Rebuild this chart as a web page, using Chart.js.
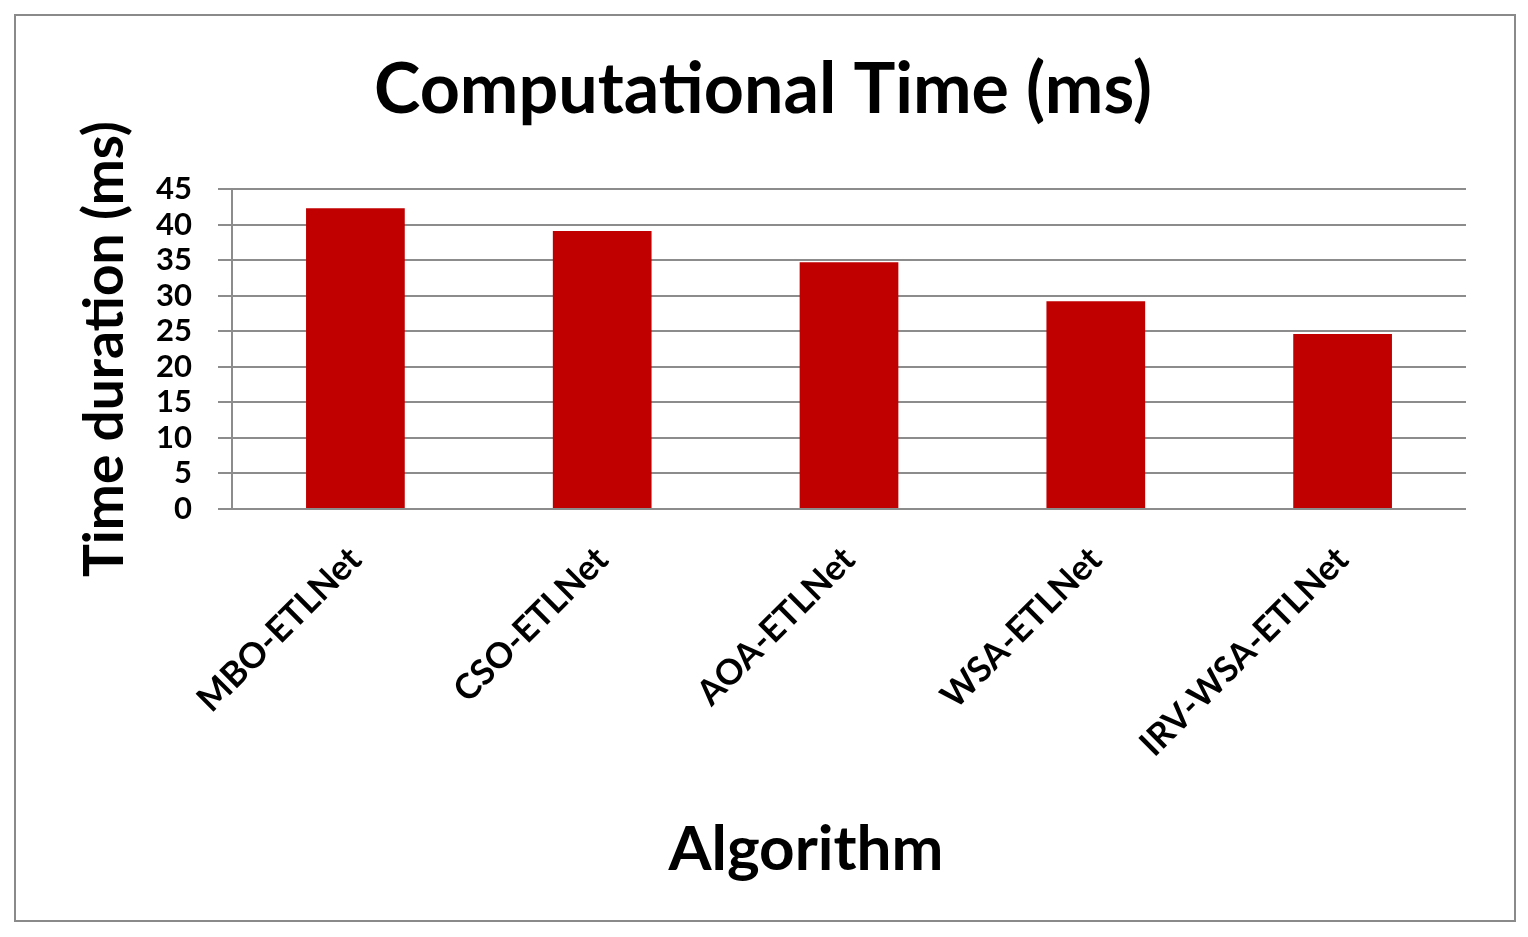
<!DOCTYPE html>
<html>
<head>
<meta charset="utf-8">
<script src="https://cdn.jsdelivr.net/npm/chart.js@4"></script>
<style>
  html, body { margin: 0; padding: 0; background: #fff; }
  #wrap { width: 1528px; height: 937px; }
</style>
</head>
<body>
<div id="wrap"><canvas id="grafico" width="1528" height="937"></canvas></div>
<script>
const algoritmos = ["MBO-ETLNet", "CSO-ETLNet", "AOA-ETLNet", "WSA-ETLNet", "IRV-WSA-ETLNet"];
const tempos = [42.3, 39.1, 34.7, 29.2, 24.6];
const tituloGrafico = "Computational Time (ms)";
const tituloY = "Time duration (ms)";
const tituloX = "Algorithm";

const fonte = "Lato";
const cinza = "#8c8c8c";

// moldura cinza em volta do grafico
const moldura = {
  id: "moldura",
  beforeDraw(chart) {
    const ctx = chart.ctx;
    ctx.save();
    ctx.fillStyle = "#fff";
    ctx.fillRect(0, 0, chart.width, chart.height);
    ctx.strokeStyle = "#8a8a8a";
    ctx.lineWidth = 2;
    ctx.strokeRect(15, 15, 1500, 906);
    ctx.restore();
  }
};

// titulo do eixo x, um pouco deslocado para a esquerda como no original
const tituloEixoX = {
  id: "tituloEixoX",
  afterDraw(chart) {
    const ctx = chart.ctx;
    ctx.save();
    ctx.fillStyle = "#000";
    ctx.font = `bold 62px ${fonte}`;
    ctx.textAlign = "center";
    ctx.textBaseline = "middle";
    ctx.fillText(tituloX, 806, 850);
    ctx.restore();
  }
};

new Chart(document.getElementById("grafico"), {
  type: "bar",
  data: {
    labels: algoritmos,
    datasets: [
      {
        label: tituloGrafico,
        data: tempos,
        backgroundColor: "#c00000",
        barPercentage: 0.4,
        categoryPercentage: 1
      }
    ]
  },
  plugins: [moldura, tituloEixoX],
  options: {
    responsive: false,
    animation: false,
    layout: { padding: { top: 20, left: 60, right: 62, bottom: 50 } },
    plugins: {
      legend: { display: false },
      tooltip: { enabled: false },
      title: {
        display: true,
        text: tituloGrafico,
        color: "#000",
        font: { family: fonte, size: 70, weight: "bold" },
        padding: { top: 28, bottom: 57 }
      }
    },
    scales: {
      x: {
        afterFit(scale) { scale.height = 378; },
        grid: { display: false, drawTicks: false },
        border: { display: false },
        ticks: {
          color: "#000",
          font: { family: fonte, size: 35, weight: "bold" },
          minRotation: 45,
          maxRotation: 45,
          padding: 30
        }
      },
      y: {
        min: 0,
        max: 45,
        afterFit(scale) { scale.width = 172; },
        grid: { color: cinza, lineWidth: 2, tickLength: 14 },
        border: { display: true, color: cinza, width: 2 },
        ticks: {
          stepSize: 5,
          autoSkip: false,
          color: "#000",
          font: { family: fonte, size: 31, weight: "bold", lineHeight: 1 },
          padding: 26
        },
        title: {
          display: true,
          text: tituloY,
          color: "#000",
          font: { family: fonte, size: 55, weight: "bold" },
          padding: { top: 12, bottom: 0 }
        }
      }
    }
  }
});
</script>
</body>
</html>
